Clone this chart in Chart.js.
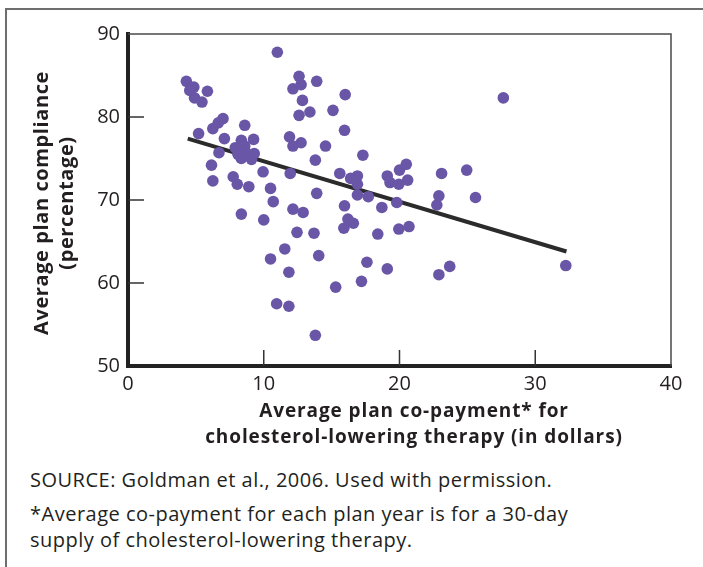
<!DOCTYPE html>
<html>
<head>
<meta charset="utf-8">
<script src="https://cdn.jsdelivr.net/npm/chart.js@4"></script>
<style>
  html, body { margin: 0; background: #fff; overflow: hidden; }
  #frame { position: absolute; left: 5px; top: 8px; width: 720px; height: 620px;
           border-left: 2px solid #6e6e6e; border-top: 2px solid #6e6e6e; }
  #wrap { position: absolute; left: 0; top: 0; width: 703px; height: 460px; }
  .note { position: absolute; left: 30px; font-family: "Open Sans", sans-serif;
          font-size: 20px; letter-spacing: 0.5px; line-height: 26px; color: #231f20; }
</style>
</head>
<body>
<div id="frame"></div>
<div id="wrap"><canvas id="scatter-Chart" width="703" height="460"></canvas></div>
<div class="note" style="top:467px">SOURCE: Goldman et al., 2006. Used with permission.</div>
<div class="note" style="top:501px">*Average co-payment for each plan year is for a 30-day<br>supply of cholesterol-lowering therapy.</div>
<script>
// average plan co-payment (dollars)
const copay = [
  11.0, 4.3, 4.85, 4.55, 5.85, 4.9, 5.45, 12.6, 12.75, 12.15, 13.9, 12.85, 13.4, 12.6,
  7.0, 6.65, 6.25, 5.2, 8.6, 7.1, 8.35, 9.25, 7.9, 8.6, 8.1, 8.7, 9.3, 8.35, 9.1, 6.7,
  11.9, 12.75, 12.15, 13.8, 6.15, 9.95, 11.95, 6.25, 7.75, 8.05, 8.9, 10.5, 10.7, 13.9,
  8.35, 10.0, 12.15, 12.9, 12.45, 13.7, 11.55, 14.05, 10.5, 11.85, 10.95, 11.85, 13.8,
  16.0, 15.1, 15.95, 14.55, 17.3, 20.0, 20.5, 23.1, 15.6, 16.4, 16.9, 16.9, 19.1, 19.3,
  19.95, 20.6, 16.9, 17.7, 15.95, 18.7, 19.8, 22.9, 22.75, 16.2, 16.6, 15.9, 18.4, 19.95,
  20.7, 17.6, 19.1, 17.2, 15.3, 22.9, 23.7, 27.65, 24.95, 25.6, 32.25
];
// average plan compliance (percentage)
const compliance = [
  87.8, 84.3, 83.6, 83.2, 83.1, 82.3, 81.8, 84.9, 83.9, 83.4, 84.3, 82.0, 80.6, 80.2,
  79.8, 79.3, 78.6, 78.0, 79.0, 77.4, 77.2, 77.3, 76.3, 76.5, 75.5, 75.7, 75.6, 75.0, 74.9, 75.7,
  77.6, 76.9, 76.5, 74.8, 74.2, 73.4, 73.2, 72.3, 72.8, 71.9, 71.6, 71.4, 69.8, 70.8,
  68.3, 67.6, 68.9, 68.5, 66.1, 66.0, 64.1, 63.3, 62.9, 61.3, 57.5, 57.2, 53.7,
  82.7, 80.8, 78.4, 76.5, 75.4, 73.6, 74.3, 73.2, 73.2, 72.6, 72.9, 71.9, 72.9, 72.1,
  71.9, 72.4, 70.6, 70.4, 69.3, 69.1, 69.7, 70.5, 69.4, 67.7, 67.2, 66.6, 65.9, 66.5,
  66.8, 62.5, 61.7, 60.2, 59.5, 61.0, 62.0, 82.3, 73.6, 70.3, 62.1
];
// fitted trend line end points
const trendX = [4.4, 32.3];
const trendY = [77.4, 63.8];

const xTicks = [0, 10, 20, 30, 40];
const yTicks = [50, 60, 70, 80, 90];
const xTitle = ["Average plan co-payment* for", "cholesterol-lowering therapy (in dollars)"];
const yTitle = ["Average plan compliance", "(percentage)"];

const FONT = '"Open Sans", sans-serif';
const INK = "#231f20";

const frameAndTitles = {
  id: "frameAndTitles",
  beforeDatasetsDraw(chart) {
    const { ctx, chartArea: a, scales } = chart;
    ctx.save();
    // thin top and right edges of the plot box
    ctx.strokeStyle = "#4a4a4a";
    ctx.lineWidth = 1.5;
    ctx.beginPath();
    ctx.moveTo(a.left, a.top);
    ctx.lineTo(a.right, a.top);
    ctx.lineTo(a.right, a.bottom);
    ctx.stroke();
    // inward tick marks
    ctx.strokeStyle = "#333";
    ctx.lineWidth = 1.5;
    ctx.beginPath();
    xTicks.slice(1, -1).forEach(v => {
      const px = scales.x.getPixelForValue(v);
      ctx.moveTo(px, a.bottom);
      ctx.lineTo(px, a.bottom - 16);
    });
    yTicks.slice(1, -1).forEach(v => {
      const py = scales.y.getPixelForValue(v);
      ctx.moveTo(a.left, py);
      ctx.lineTo(a.left + 16, py);
    });
    ctx.stroke();
    ctx.restore();
  },
  afterDraw(chart) {
    const { ctx, chartArea: a } = chart;
    ctx.save();
    ctx.fillStyle = INK;
    ctx.font = "bold 19px " + FONT;
    ctx.letterSpacing = "0.9px";
    ctx.textAlign = "center";
    ctx.textBaseline = "middle";
    xTitle.forEach((t, i) => ctx.fillText(t, a.left + 286, a.bottom + 46 + i * 26));
    ctx.font = "bold 20px " + FONT;
    ctx.letterSpacing = "0.6px";
    ctx.translate(0, a.top + 169);
    ctx.rotate(-Math.PI / 2);
    yTitle.forEach((t, i) => ctx.fillText(t, 0, 42 + i * 25));
    ctx.restore();
  }
};

document.addEventListener("DOMContentLoaded", () => {
  const ctx = document.getElementById("scatter-Chart");
  if (!ctx) {
    console.error("Canvas element not found");
    return;
  }
  new Chart(ctx, {
    data: {
      datasets: [
        {
          type: "scatter",
          data: copay.map((x, i) => ({ x: x, y: compliance[i] })),
          backgroundColor: "#6a56a6",
          borderWidth: 0,
          pointRadius: 5.8,
          order: 1,
        },
        {
          type: "line",
          data: trendX.map((x, i) => ({ x: x, y: trendY[i] })),
          borderColor: "#2b2b2b",
          borderWidth: 4,
          pointRadius: 0,
          order: 2,
        },
      ],
    },
    options: {
      responsive: false,
      animation: false,
      layout: { padding: { top: 34, right: 32, left: 0, bottom: 0 } },
      plugins: { legend: { display: false }, tooltip: { enabled: false } },
      scales: {
        x: {
          type: "linear",
          min: 0,
          max: 40,
          afterBuildTicks: s => { s.ticks = xTicks.map(v => ({ value: v })); },
          afterFit: s => { s.height = 94; },
          ticks: { color: INK, font: { size: 20, family: FONT }, padding: 6 },
          grid: { display: false, drawTicks: false },
          border: { display: true, width: 4, color: "#222" },
        },
        y: {
          type: "linear",
          min: 50,
          max: 90,
          afterBuildTicks: s => { s.ticks = yTicks.map(v => ({ value: v })); },
          afterFit: s => { s.width = 128; },
          ticks: { color: INK, font: { size: 20, family: FONT }, padding: 8 },
          grid: { display: false, drawTicks: false },
          border: { display: true, width: 4, color: "#222" },
        },
      },
    },
    plugins: [frameAndTitles],
  });
});
</script>
</body>
</html>
